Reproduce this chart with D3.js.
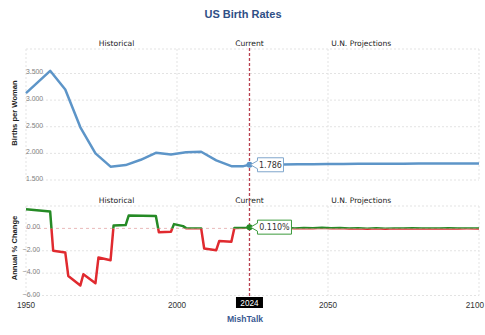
<!DOCTYPE html>
<html><head><meta charset="utf-8">
<script src="https://cdn.jsdelivr.net/npm/d3@7"></script>
<style>body{margin:0;background:#fff}svg{display:block}</style>
</head><body><svg id="c" width="485" height="335"></svg>
<script>
const histYears = [1950,1958,1963,1968,1973,1978,1983,1988,1993,1998,2003,2008,2013,2018,2022,2024];
const histRates = [3.13,3.55,3.20,2.49,2.00,1.75,1.78,1.88,2.01,1.98,2.02,2.03,1.87,1.76,1.76,1.786];
const projYears = [2024,2030,2035,2040,2045,2050,2055,2060,2065,2070,2075,2080,2085,2090,2095,2100];
const projRates = [1.786,1.79,1.793,1.795,1.797,1.799,1.801,1.803,1.804,1.806,1.807,1.808,1.809,1.81,1.811,1.812];
const chgYears = [1950,1958,1959,1963,1964,1968,1969,1973,1974,1978,1979,1983,1984,1993,1994,1998,1999,2002,2003,2008,2009,2013,2014,2018,2019,2023,2024];
const chgValues = [1.72,1.5,-2.0,-2.15,-4.25,-5.1,-4.1,-4.9,-2.6,-2.85,0.25,0.3,1.15,1.1,-0.35,-0.3,0.38,0.2,0.02,0.0,-1.8,-1.95,-1.12,-1.2,0.03,0.05,0.11];
const chgProjYears = [2024,2027,2030,2033,2036,2039,2042,2045,2048,2051,2054,2057,2060,2063,2066,2069,2072,2075,2078,2081,2084,2087,2090,2093,2096,2100];
const chgProjValues = [0.11,0.03,0.07,0.01,0.05,0.0,0.04,0.02,0.05,0.01,0.03,-0.01,0.02,-0.03,0.01,-0.04,0.0,-0.02,0.01,-0.02,0.0,-0.01,0.01,-0.01,0.0,0.0];
const xTicks = [1950,2000,2050,2100];
const rateTicks = [1.5,2.0,2.5,3.0,3.5];
const chgTicks = [0,-2,-4,-6];
const sections = ["Historical","Current","U.N. Projections"];
const sectionX = [1980,2024,2061];
const currentYear = 2024;

const svg = d3.select("#c");
const x = d3.scaleLinear().domain([1950,2100]).range([26,479]);
const yT = d3.scaleLinear().domain([1.5,3.96]).range([180,49]);
const yB = d3.scaleLinear().domain([-6,2]).range([295.5,206]);
const grid = "#e3e3e3";

// title
svg.append("text").attr("x",243).attr("y",18).attr("text-anchor","middle")
  .attr("font-family","Liberation Sans, Arial, sans-serif").attr("font-weight","bold")
  .attr("font-size",11).attr("fill","#2f4f86").text("US Birth Rates");

// grids
function vgrid(y0,y1){
  xTicks.forEach(t=>svg.append("line").attr("x1",x(t)).attr("x2",x(t)).attr("y1",y0).attr("y2",y1)
    .attr("stroke",grid).attr("stroke-dasharray","2,2").attr("stroke-width",1));
}
vgrid(49,180); vgrid(206,295.5);
[...rateTicks,3.96].forEach(t=>svg.append("line").attr("x1",26).attr("x2",479).attr("y1",yT(t)).attr("y2",yT(t))
  .attr("stroke",grid).attr("stroke-dasharray","2,2"));
[2,-2,-4,-6].forEach(t=>svg.append("line").attr("x1",26).attr("x2",479).attr("y1",yB(t)).attr("y2",yB(t))
  .attr("stroke",grid).attr("stroke-dasharray","2,2"));
svg.append("line").attr("x1",26).attr("x2",479).attr("y1",yB(0)).attr("y2",yB(0))
  .attr("stroke","#e9b9b9").attr("stroke-dasharray","3,3");

// tick labels
const tickFont = "Liberation Sans, Arial, sans-serif";
rateTicks.forEach(t=>svg.append("text").attr("x",43).attr("y",yT(t)+1).attr("text-anchor","end")
  .attr("font-family",tickFont).attr("font-size",6.8).attr("fill","#808080")
  .text(d3.format(".3f")(t)));
chgTicks.forEach(t=>svg.append("text").attr("x",40).attr("y",yB(t)+1).attr("text-anchor","end")
  .attr("font-family",tickFont).attr("font-size",6.8).attr("fill","#808080")
  .text(d3.format(".2f")(t)));
xTicks.forEach(t=>{
  const tx = svg.append("text").attr("y",308).attr("text-anchor","middle")
    .attr("font-family",tickFont).attr("font-size",8.2).attr("fill","#333").text(t);
  tx.attr("x",x(t));
  const bb = tx.node().getBBox();
  if (bb.x+bb.width>484) tx.attr("text-anchor","end").attr("x",484);
});

// axis titles
svg.append("text").attr("transform","translate(17,113) rotate(-90)").attr("text-anchor","middle")
  .attr("font-family",tickFont).attr("font-weight","bold").attr("font-size",7.6).attr("fill","#222").text("Births per Woman");
svg.append("text").attr("transform","translate(17,248) rotate(-90)").attr("text-anchor","middle")
  .attr("font-family",tickFont).attr("font-weight","bold").attr("font-size",7.6).attr("fill","#222").text("Annual % Change");

// section labels
[43,200].forEach(yy=>{
  sections.forEach((s,i)=>svg.append("text").attr("x",x(sectionX[i])).attr("y",yy+3).attr("text-anchor","middle")
    .attr("font-family","DejaVu Sans, Verdana, sans-serif").attr("font-size",7.6).attr("fill","#222").text(s));
});

// current line
svg.append("line").attr("x1",x(currentYear)).attr("x2",x(currentYear)).attr("y1",48).attr("y2",297)
  .attr("stroke","#b8404f").attr("stroke-width",1.3).attr("stroke-dasharray","3,2");

// top series
const lineT = d3.line().x(d=>x(d[0])).y(d=>yT(d[1]));
const hist = histYears.map((y,i)=>[y,histRates[i]]);
const proj = projYears.map((y,i)=>[y,projRates[i]]);
svg.append("path").datum(hist.concat(proj.slice(1))).attr("d",lineT).attr("fill","none")
  .attr("stroke","#5d95c8").attr("stroke-width",2.5).attr("stroke-linejoin","round");
svg.append("circle").attr("cx",x(currentYear)).attr("cy",yT(1.786)).attr("r",3).attr("fill","#5d95c8");

// bottom series with color split at zero
const chg = chgYears.map((y,i)=>[y,chgValues[i]]).concat(chgProjYears.slice(1).map((y,i)=>[y,chgProjValues[i+1]]));
const lineB = d3.line().x(d=>x(d[0])).y(d=>yB(d[1]));
const defs = svg.append("defs");
defs.append("clipPath").attr("id","above").append("rect").attr("x",0).attr("y",0).attr("width",485).attr("height",yB(0));
defs.append("clipPath").attr("id","below").append("rect").attr("x",0).attr("y",yB(0)).attr("width",485).attr("height",335-yB(0));
svg.append("path").datum(chg).attr("d",lineB).attr("fill","none").attr("stroke","#e02a2f")
  .attr("stroke-width",2.5).attr("stroke-linejoin","round").attr("clip-path","url(#below)");
svg.append("path").datum(chg).attr("d",lineB).attr("fill","none").attr("stroke","#258a25")
  .attr("stroke-width",2.5).attr("stroke-linejoin","round").attr("clip-path","url(#above)");
svg.append("circle").attr("cx",x(currentYear)).attr("cy",yB(0.11)).attr("r",3).attr("fill","#258a25");

// value boxes
function box(cx,cy,w,label,color){
  const x0=cx+4, h=14;
  const p=`M${cx+1},${cy} L${x0+4},${cy-4} L${x0+4},${cy-h/2} L${x0+4+w},${cy-h/2} L${x0+4+w},${cy+h/2} L${x0+4},${cy+h/2} L${x0+4},${cy+4} Z`;
  svg.append("path").attr("d",p).attr("fill","#fff").attr("stroke",color).attr("stroke-width",1);
  svg.append("text").attr("x",x0+4+w/2).attr("y",cy+3).attr("text-anchor","middle")
    .attr("font-family","DejaVu Sans, Verdana, sans-serif").attr("font-size",8).attr("fill","#333").text(label);
}
box(x(currentYear),yT(1.786),26,"1.786","#7fa6cc");
box(x(currentYear),yB(0.11),34,"0.110%","#3c9a3c");

// current year label
svg.append("rect").attr("x",x(currentYear)-13.5).attr("y",297).attr("width",27).attr("height",11).attr("fill","#000");
svg.append("text").attr("x",x(currentYear)).attr("y",306).attr("text-anchor","middle")
  .attr("font-family",tickFont).attr("font-size",8.2).attr("fill","#fff").text(currentYear);

// source
svg.append("text").attr("x",245).attr("y",322).attr("text-anchor","middle")
  .attr("font-family",tickFont).attr("font-weight","bold").attr("font-size",8.6).attr("fill","#3a5a93").text("MishTalk");
</script></body></html>
